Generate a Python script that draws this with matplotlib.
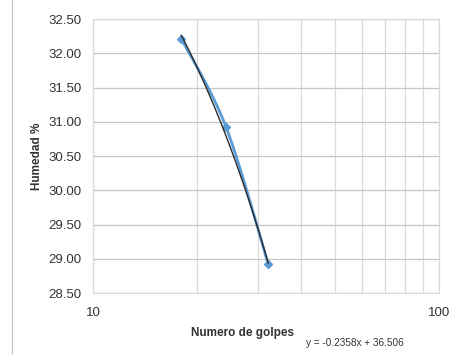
import numpy as np
import matplotlib
matplotlib.use("Agg")
import matplotlib.pyplot as plt
from matplotlib.lines import Line2D

plt.rcParams["font.family"] = ["Liberation Sans", "DejaVu Sans"]

# data
golpes = [18.0, 24.2, 32.1]
humedad = [32.21, 30.93, 28.92]
slope, intercept = -0.2358, 36.506
yticks = [28.5, 29.0, 29.5, 30.0, 30.5, 31.0, 31.5, 32.0, 32.5]

SERIES = "#5b9bd5"
TREND = "#2b2b2b"
GRID_H = "#c6c6c6"
GRID_V = "#dadada"
INK = "#333333"


def catmull(xs, ys, n=30):
    # excel-like smoothing, done in log-x space
    lx = np.log10(xs)
    pts = np.column_stack([lx, ys])
    p = np.vstack([pts[0], pts, pts[-1]])
    out = []
    for i in range(1, len(p) - 2):
        p0, p1, p2, p3 = p[i - 1], p[i], p[i + 1], p[i + 2]
        t = np.linspace(0, 1, n)[:, None]
        seg = 0.5 * ((2 * p1) + (-p0 + p2) * t + (2 * p0 - 5 * p1 + 4 * p2 - p3) * t ** 2
                     + (-p0 + 3 * p1 - 3 * p2 + p3) * t ** 3)
        out.append(seg)
    c = np.vstack(out)
    return 10 ** c[:, 0], c[:, 1]


fig = plt.figure(figsize=(4.52, 3.54), dpi=100)
ax = fig.add_axes([0.2058, 0.1723, 0.7655, 0.774])

ax.set_xscale("log")
ax.set_xlim(10, 100)
ax.set_ylim(28.5, 32.5)
ax.set_yticks(yticks)
ax.set_yticklabels([f"{v:.2f}" for v in yticks], fontsize=9.5, color=INK)
ax.set_xticks([10, 100])
ax.set_xticklabels(["10", "100"], fontsize=9.5, color=INK)
ax.set_xticks([20, 30, 40, 50, 60, 70, 80, 90], minor=True)
ax.xaxis.set_minor_formatter(matplotlib.ticker.NullFormatter())
ax.tick_params(axis="both", which="both", length=0)
ax.tick_params(axis="y", pad=8)
ax.tick_params(axis="x", pad=10)

ax.grid(axis="y", color=GRID_H, linewidth=0.9, zorder=0)
ax.grid(axis="x", which="both", color=GRID_V, linewidth=0.9, zorder=0)
ax.set_axisbelow(True)
for s in ax.spines.values():
    s.set_color(GRID_V)
    s.set_linewidth(0.9)

sx, sy = catmull(golpes, humedad)
ax.plot(sx, sy, color=SERIES, linewidth=2.0, zorder=3)
ax.plot(golpes, humedad, linestyle="none", marker="D", markersize=4,
        color=SERIES, zorder=4)

tx = np.linspace(min(golpes), max(golpes), 100)
ax.plot(tx, slope * tx + intercept, color=TREND, linewidth=1.0, zorder=5)

fig.text(37 / 452, 1 - 156 / 354, "Humedad %", rotation=90, fontsize=8.5,
         fontweight="bold", color=INK, ha="center", va="center")
fig.text(243 / 452, 1 - 333 / 354, "Numero de golpes", fontsize=8.5,
         fontweight="bold", color=INK, ha="center", va="center")
fig.text(355 / 452, 1 - 343 / 354, f"y = {slope}x + {intercept}", fontsize=7.2,
         color=INK, ha="center", va="center")

fig.add_artist(Line2D([12 / 452, 12 / 452], [0, 1], color="#bdbdbd", linewidth=0.8,
                      transform=fig.transFigure))

fig.savefig("out.png", dpi=100)
